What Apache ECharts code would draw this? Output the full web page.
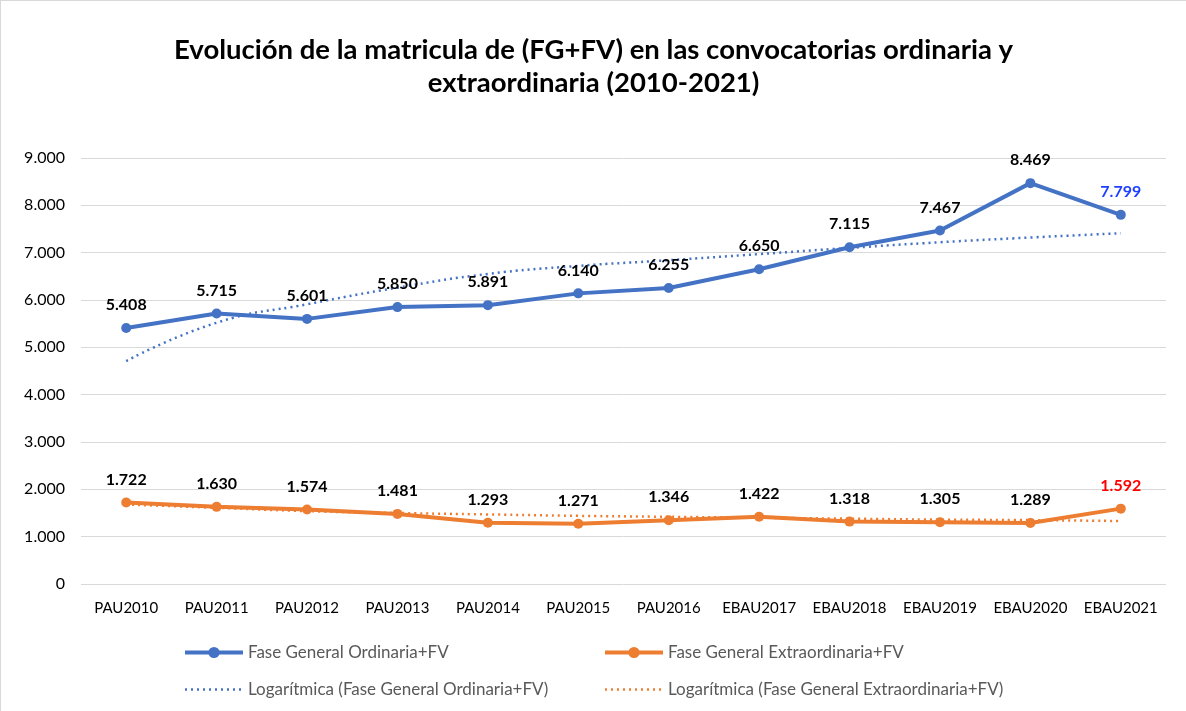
<!DOCTYPE html>
<html>
<head>
<meta charset="utf-8">
<script src="https://cdn.jsdelivr.net/npm/echarts@6/dist/echarts.min.js"></script>
<style>
  html, body { margin: 0; padding: 0; background: #fff; }
  #chart { width: 1186px; height: 711px; box-sizing: border-box; border-left: 1px solid #d9d9d9; border-top: 1px solid #d9d9d9; }
</style>
</head>
<body>
<div id="chart"></div>
<script>
const categories = ["PAU2010", "PAU2011", "PAU2012", "PAU2013", "PAU2014", "PAU2015", "PAU2016", "EBAU2017", "EBAU2018", "EBAU2019", "EBAU2020", "EBAU2021"];
const ordinaria = [5408, 5715, 5601, 5850, 5891, 6140, 6255, 6650, 7115, 7467, 8469, 7799];
const extraordinaria = [1722, 1630, 1574, 1481, 1293, 1271, 1346, 1422, 1318, 1305, 1289, 1592];
// tendencias leidas a ojo del grafico
const logOrdinaria = [4710, 5520, 5910, 6260, 6550, 6720, 6840, 6970, 7100, 7220, 7320, 7410];
const logExtraordinaria = [1680, 1610, 1540, 1500, 1470, 1440, 1420, 1400, 1380, 1360, 1350, 1330];

const fontFam = "Lato, 'Open Sans', sans-serif";
const blue = "#4472C4";
const orange = "#ED7D31";

function fmt(v) {
  return String(v).replace(/\B(?=(\d{3})+(?!\d))/g, ".");
}

var myChart = echarts.init(document.getElementById("chart"));

function labelFor(lastColor) {
  return {
    show: true,
    position: "top",
    distance: 10,
    fontFamily: fontFam,
    fontWeight: "bold",
    fontSize: 16,
    color: "#000",
    formatter: function (p) {
      return p.dataIndex === categories.length - 1 ? "{last|" + fmt(p.value) + "}" : fmt(p.value);
    },
    rich: {
      last: { color: lastColor, fontFamily: fontFam, fontWeight: "bold", fontSize: 16 },
    },
  };
}

const legendText = { fontFamily: fontFam, fontSize: 17, color: "#595959" };

const option = {
  animation: false,
  title: {
    text: "Evolución de la matricula de (FG+FV) en las convocatorias ordinaria y\nextraordinaria (2010-2021)",
    left: "center",
    top: 28,
    textStyle: {
      fontFamily: fontFam,
      fontWeight: "bold",
      fontSize: 27.5,
      lineHeight: 33,
      color: "#000",
    },
  },
  legend: [
    {
      orient: "vertical",
      left: 182,
      top: 643,
      padding: 0,
      itemWidth: 58,
      itemHeight: 14,
      itemGap: 20,
      data: [
        { name: "Fase General Ordinaria+FV", lineStyle: { width: 4 } },
        { name: "Logarítmica (Fase General Ordinaria+FV)", itemStyle: { opacity: 0 }, lineStyle: { width: 2.5 } },
      ],
      textStyle: legendText,
    },
    {
      orient: "vertical",
      left: 602,
      top: 643,
      padding: 0,
      itemWidth: 58,
      itemHeight: 14,
      itemGap: 20,
      data: [
        { name: "Fase General Extraordinaria+FV", lineStyle: { width: 4 } },
        { name: "Logarítmica (Fase General Extraordinaria+FV)", itemStyle: { opacity: 0 }, lineStyle: { width: 2.5 } },
      ],
      textStyle: legendText,
    },
  ],
  grid: { left: 80, top: 157, width: 1085, height: 426 },
  xAxis: {
    type: "category",
    data: categories,
    axisLine: { show: false },
    axisTick: { show: false },
    axisLabel: { interval: 0, fontFamily: fontFam, fontSize: 15, color: "#000", margin: 17 },
  },
  yAxis: {
    type: "value",
    min: 0,
    max: 9000,
    interval: 1000,
    axisLabel: {
      fontFamily: fontFam,
      fontSize: 16,
      color: "#000",
      margin: 16,
      formatter: function (v) { return fmt(v); },
    },
    splitLine: { lineStyle: { color: "#d9d9d9", width: 1 } },
  },
  series: [
    {
      name: "Fase General Ordinaria+FV",
      type: "line",
      data: ordinaria,
      symbol: "circle",
      symbolSize: 10,
      lineStyle: { color: blue, width: 4 },
      itemStyle: { color: blue },
      label: labelFor("#1F3FFF"),
      z: 3,
    },
    {
      name: "Fase General Extraordinaria+FV",
      type: "line",
      data: extraordinaria,
      symbol: "circle",
      symbolSize: 10,
      lineStyle: { color: orange, width: 4 },
      itemStyle: { color: orange },
      label: labelFor("#FF0000"),
      z: 3,
    },
    {
      name: "Logarítmica (Fase General Ordinaria+FV)",
      type: "line",
      data: logOrdinaria,
      smooth: true,
      symbol: "none",
      lineStyle: { color: blue, width: 2.5, type: [2, 4] },
      itemStyle: { color: blue },
      z: 2,
    },
    {
      name: "Logarítmica (Fase General Extraordinaria+FV)",
      type: "line",
      data: logExtraordinaria,
      smooth: true,
      symbol: "none",
      lineStyle: { color: orange, width: 2.5, type: [2, 4] },
      itemStyle: { color: orange },
      z: 2,
    },
  ],
};

option && myChart.setOption(option);
</script>
</body>
</html>
